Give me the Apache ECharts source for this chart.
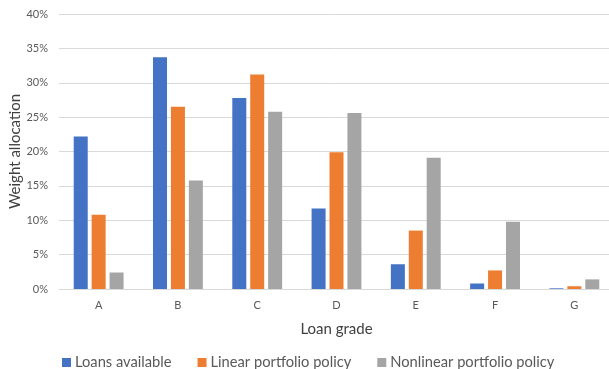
<!DOCTYPE html>
<html>
<head>
<meta charset="utf-8">
<script src="https://cdn.jsdelivr.net/npm/echarts@6/dist/echarts.min.js"></script>
<style>
  html, body { margin: 0; padding: 0; background: #fff; }
  #chart { width: 609px; height: 369px; }
</style>
</head>
<body>
<div id="chart"></div>
<script>
// Loan grades on the category axis
const grades = ['A', 'B', 'C', 'D', 'E', 'F', 'G'];

// Weight allocation per grade, in percent
const loansAvailable = [22.2, 33.7, 27.8, 11.7, 3.6, 0.8, 0.1];
const linearPolicy = [10.8, 26.5, 31.2, 19.9, 8.5, 2.7, 0.4];
const nonlinearPolicy = [2.4, 15.8, 25.8, 25.6, 19.1, 9.8, 1.4];

const seriesNames = ['Loans available', 'Linear portfolio policy', 'Nonlinear portfolio policy'];
const seriesColors = ['#4472C4', '#ED7D31', '#A5A5A5'];

const FONT = 'Lato, "Open Sans", sans-serif';
const TEXT = '#595959';

const chart = echarts.init(document.getElementById('chart'), null, { renderer: 'canvas' });

function barSeries(name, data, color) {
  return {
    name: name,
    type: 'bar',
    data: data,
    barWidth: 14,
    barGap: '28%',
    itemStyle: { color: color },
    emphasis: { disabled: true }
  };
}

chart.setOption({
  animation: false,
  color: seriesColors,
  textStyle: { fontFamily: FONT },
  grid: {
    left: 59, top: 14, width: 555, height: 275,
    containLabel: false,
    outerBoundsMode: 'none'
  },
  legend: {
    left: 62,
    top: 355,
    padding: 0,
    itemWidth: 9,
    itemHeight: 9,
    itemGap: 26,
    icon: 'rect',
    textStyle: { fontFamily: FONT, fontSize: 14.7, color: TEXT, padding: [0, 0, 0, -1] },
    data: seriesNames
  },
  xAxis: {
    type: 'category',
    data: grades,
    name: 'Loan grade',
    nameLocation: 'middle',
    nameGap: 33,
    nameMoveOverlap: false,
    nameTextStyle: { fontFamily: FONT, fontSize: 15, color: '#404040' },
    axisLine: { lineStyle: { color: '#D9D9D9' } },
    axisTick: { show: false },
    axisLabel: { fontFamily: FONT, fontSize: 11, color: TEXT, margin: 11 }
  },
  yAxis: {
    type: 'value',
    min: 0,
    max: 40,
    interval: 5,
    name: 'Weight allocation',
    nameLocation: 'middle',
    nameGap: 36,
    nameMoveOverlap: false,
    nameTextStyle: { fontFamily: FONT, fontSize: 15, color: '#404040' },
    axisLine: { show: false },
    axisTick: { show: false },
    splitLine: { lineStyle: { color: '#D9D9D9', width: 1 } },
    axisLabel: { fontFamily: FONT, fontSize: 11, color: TEXT, margin: 11, formatter: '{value}%' }
  },
  series: [
    barSeries(seriesNames[0], loansAvailable, seriesColors[0]),
    barSeries(seriesNames[1], linearPolicy, seriesColors[1]),
    barSeries(seriesNames[2], nonlinearPolicy, seriesColors[2])
  ]
});
</script>
</body>
</html>
